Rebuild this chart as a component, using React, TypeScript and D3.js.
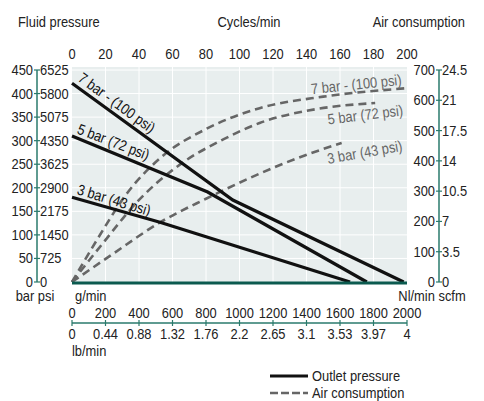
import * as d3 from 'd3';
import React from 'react';

// axis ticks
const cycleTicks = [0, 20, 40, 60, 80, 100, 120, 140, 160, 180, 200];
const barTicks = [0, 50, 100, 150, 200, 250, 300, 350, 400, 450];
const psiLabels = ['0', '725', '1450', '2175', '2900', '3625', '4350', '5075', '5800', '6525'];
const nlTicks = [0, 100, 200, 300, 400, 500, 600, 700];
const scfmLabels = ['0', '3.5', '7', '10.5', '14', '17.5', '21', '24.5'];
const gminTicks = [0, 200, 400, 600, 800, 1000, 1200, 1400, 1600, 1800, 2000];
const lbLabels = ['0', '0.44', '0.88', '1.32', '1.76', '2.2', '2.65', '3.1', '3.53', '3.97', '4'];

// outlet pressure: [g/min, bar]
const outlet7: [number, number][] = [[0, 422], [960, 174], [1980, 0]];
const outlet5: [number, number][] = [[0, 310], [810, 191], [1760, 0]];
const outlet3: [number, number][] = [[0, 180], [525, 127], [1660, 0]];

// air consumption: [cycles/min, Nl/min]
const air7: [number, number][] = [[0, 0], [15, 140], [33, 294], [55, 420], [80, 505], [112, 574], [150, 612], [200, 640]];
const air5: [number, number][] = [[0, 0], [18, 125], [40, 271], [65, 390], [90, 470], [112, 525], [145, 570], [181, 591]];
const air3: [number, number][] = [[0, 0], [25, 95], [52, 195], [80, 275], [106, 343], [135, 410], [161, 459]];

const outletLabels = [
  { text: '7 bar - (100 psi)', at: [30, 428], angle: 36 },
  { text: '5 bar (72 psi)', at: [25, 316], angle: 21 },
  { text: '3 bar (43 psi)', at: [25, 187], angle: 17 },
];
const airLabels = [
  { text: '7 bar - (100 psi)', at: [143, 620], angle: -6 },
  { text: '5 bar (72 psi)', at: [153, 520], angle: -7 },
  { text: '3 bar (43 psi)', at: [153, 390], angle: -10 },
];

const font = '"Liberation Sans", Arial, sans-serif';
const teal = '#2a7a6c';

// condensed text: regular face squeezed horizontally
function T({ x, y, anchor, rot = 0, fill = '#222', children }: any) {
  return (
    <g transform={`translate(${x},${y}) rotate(${rot}) scale(0.86,1)`}>
      <text textAnchor={anchor || 'start'} fill={fill}>{children}</text>
    </g>
  );
}

export default function App() {
  const left = 72, right = 407, top = 70, bottom = 282;

  const xCyc = d3.scaleLinear().domain([0, 200]).range([left, right]);
  const xG = d3.scaleLinear().domain([0, 2000]).range([left, right]);
  const yBar = d3.scaleLinear().domain([0, 450]).range([bottom, top]);
  const yNl = d3.scaleLinear().domain([0, 700]).range([bottom, top]);

  const solid = d3.line<[number, number]>().x(d => xG(d[0])).y(d => yBar(d[1]));
  const dashed = d3.line<[number, number]>().x(d => xCyc(d[0])).y(d => yNl(d[1])).curve(d3.curveMonotoneX);

  const lAxisX = 37, rAxisX = 439, bAxisY = 323;

  return (
    <svg width={484} height={401} style={{ position: 'absolute', left: 0, top: 0, fontFamily: font, fontSize: 15 }}>
      <rect width={484} height={401} fill="#fff" />
      {/* titles */}
      <T x={18} y={27}>Fluid pressure</T>
      <T x={249} y={27} anchor="middle">Cycles/min</T>
      <T x={465} y={27} anchor="end">Air consumption</T>

      {/* plot background + grid */}
      <rect x={left} y={top - 3} width={right - left} height={bottom - top + 3} fill="#e8eeee" />
      {cycleTicks.slice(1, -1).map(t => (
        <line key={'vg' + t} x1={xCyc(t)} x2={xCyc(t)} y1={top - 3} y2={bottom} stroke="#fff" strokeWidth={1} />
      ))}
      {barTicks.slice(1).map(t => (
        <line key={'hg' + t} x1={left} x2={right} y1={yBar(t)} y2={yBar(t)} stroke="#fff" strokeWidth={1} />
      ))}

      {/* top axis labels */}
      {cycleTicks.map(t => (
        <T key={'c' + t} x={xCyc(t)} y={59} anchor="middle">{t}</T>
      ))}

      {/* left axis */}
      <line x1={lAxisX} x2={lAxisX} y1={yBar(450)} y2={yBar(0)} stroke={teal} strokeWidth={1.5} />
      {barTicks.map((t, i) => (
        <g key={'l' + t}>
          <line x1={lAxisX - 3} x2={lAxisX + 3} y1={yBar(t)} y2={yBar(t)} stroke={teal} strokeWidth={1.2} />
          <T x={lAxisX - 4} y={yBar(t) + 5} anchor="end">{t}</T>
          <T x={lAxisX + 3} y={yBar(t) + 5}>{psiLabels[i]}</T>
        </g>
      ))}
      <T x={35} y={301} anchor="middle">bar psi</T>

      {/* right axis */}
      <line x1={rAxisX} x2={rAxisX} y1={yNl(700)} y2={yNl(0)} stroke={teal} strokeWidth={1.5} />
      {nlTicks.map((t, i) => (
        <g key={'r' + t}>
          <line x1={rAxisX - 3} x2={rAxisX + 3} y1={yNl(t)} y2={yNl(t)} stroke={teal} strokeWidth={1.2} />
          <T x={rAxisX - 4} y={yNl(t) + 5} anchor="end">{t}</T>
          <T x={rAxisX + 3} y={yNl(t) + 5}>{scfmLabels[i]}</T>
        </g>
      ))}
      <T x={432} y={301} anchor="middle">Nl/min scfm</T>

      {/* bottom axis */}
      <T x={75} y={301}>g/min</T>
      <line x1={xG(0)} x2={xG(2000)} y1={bAxisY} y2={bAxisY} stroke={teal} strokeWidth={1.5} />
      {gminTicks.map((t, i) => (
        <g key={'b' + t}>
          <line x1={xG(t)} x2={xG(t)} y1={bAxisY - 3} y2={bAxisY + 3} stroke={teal} strokeWidth={1.2} />
          <T x={xG(t)} y={318} anchor="middle">{t}</T>
          <T x={xG(t)} y={339} anchor="middle">{lbLabels[i]}</T>
        </g>
      ))}
      <T x={72} y={356}>lb/min</T>

      {/* air consumption curves */}
      {[air7, air5, air3].map((d, i) => (
        <path key={'a' + i} d={dashed(d) || ''} fill="none" stroke="#666" strokeWidth={2.6} strokeDasharray="8,5" />
      ))}
      {airLabels.map(l => (
        <T key={'al' + l.text} x={xCyc(l.at[0])} y={yNl(l.at[1])} rot={l.angle} fill="#666">{l.text}</T>
      ))}

      {/* outlet pressure curves */}
      {[outlet7, outlet5, outlet3].map((d, i) => (
        <path key={'o' + i} d={solid(d) || ''} fill="none" stroke="#111" strokeWidth={3.2} />
      ))}
      {outletLabels.map(l => (
        <T key={'ol' + l.text} x={xG(l.at[0])} y={yBar(l.at[1])} rot={l.angle} fill="#111">{l.text}</T>
      ))}

      {/* bottom baseline */}
      <line x1={left} x2={right} y1={bottom + 1} y2={bottom + 1} stroke="#0b5a4f" strokeWidth={3} />

      {/* legend */}
      <line x1={270} x2={308} y1={376} y2={376} stroke="#111" strokeWidth={3.2} />
      <T x={312} y={381}>Outlet pressure</T>
      <line x1={270} x2={308} y1={393} y2={393} stroke="#666" strokeWidth={2.6} strokeDasharray="8,3" />
      <T x={312} y={398}>Air consumption</T>
    </svg>
  );
}
